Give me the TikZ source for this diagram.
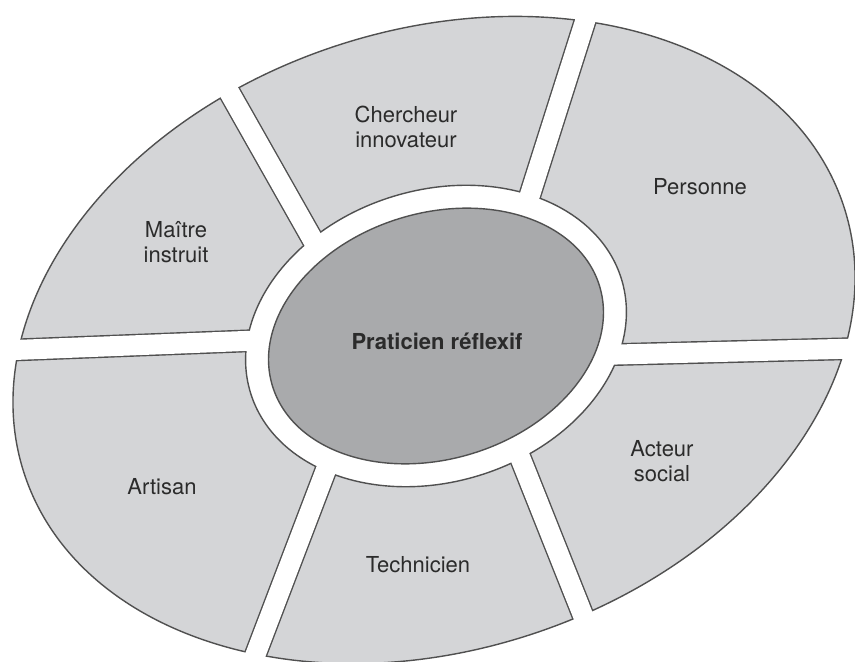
\documentclass[tikz,border=0pt]{standalone}
\usepackage{fontspec}
\setmainfont{TeX Gyre Heros}
\definecolor{ringgray}{HTML}{D4D5D7}
\definecolor{coregray}{HTML}{A9AAAC}
\definecolor{edgegray}{HTML}{505050}
\definecolor{labelgray}{HTML}{2B2B2B}

\begin{document}
\begin{tikzpicture}[x=0.5pt,y=-0.5pt,
    edge/.style={draw=edgegray,line width=0.7pt},
    gapedge/.style={draw=edgegray,line width=11.4pt},
    gapcore/.style={draw=white,line width=10pt},
    role/.style={text=labelgray,align=center,font=\fontsize{11}{12.5}\selectfont}]
  \useasboundingbox (0,0) rectangle (855,662);
  \coordinate (outer) at (434,340);
  \coordinate (ring) at (436,336);
  \coordinate (core) at (436,336);
  % gap ends, outside and inside the ring
  \coordinate (gapout-1) at (215,67);   \coordinate (gapin-1) at (327,265);
  \coordinate (gapout-2) at (595,-10);  \coordinate (gapin-2) at (522,220);
  \coordinate (gapout-3) at (878,348);  \coordinate (gapin-3) at (597,355);
  \coordinate (gapout-4) at (594,643);  \coordinate (gapin-4) at (512,437);
  \coordinate (gapout-5) at (245,682);  \coordinate (gapin-5) at (332,454);
  \coordinate (gapout-6) at (-11,351);  \coordinate (gapin-6) at (270,340);

  \path[edge,fill=ringgray,rotate around={18:(outer)}]
    (outer) ellipse [x radius=431,y radius=310];
  \path[edge,fill=white,rotate around={17:(ring)}]
    (ring) ellipse [x radius=194,y radius=146];
  \begin{scope}[even odd rule]
    \clip[rotate around={18:(outer)}] (outer) ellipse [x radius=431,y radius=310];
    \clip[rotate around={17:(ring)}]
      (-400,-400) rectangle (1300,1100) (ring) ellipse [x radius=194,y radius=146];
    \foreach \g in {1,...,6}
      \draw[gapedge] (gapout-\g) -- (gapin-\g);
  \end{scope}
  \foreach \g in {1,...,6}
    \draw[gapcore] (gapout-\g) -- (gapin-\g);
  \path[edge,fill=coregray,rotate around={17:(core)}]
    (core) ellipse [x radius=171,y radius=123];

  \node[role] (chercheur) at (406,127) {Chercheur\\innovateur};
  \node[role] (personne) at (700,187) {Personne};
  \node[role] (maitre) at (176,242) {Maître\\instruit};
  \node[role] (artisan) at (162,487) {Artisan};
  \node[role] (technicien) at (418,565) {Technicien};
  \node[role] (acteur) at (662,461) {Acteur\\social};
  \node[role,font=\bfseries\fontsize{11}{12.5}\selectfont] (praticien) at (437,341) {Praticien réflexif};
\end{tikzpicture}
\end{document}
